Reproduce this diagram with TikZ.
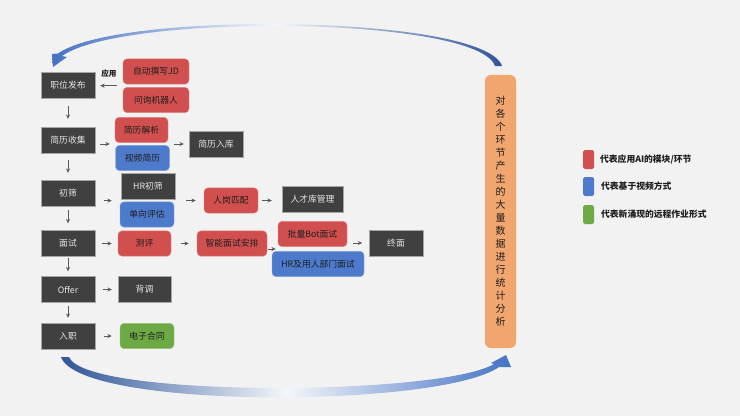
\documentclass[tikz,border=0pt]{standalone}
\usepackage{fontspec}
\setmainfont{Noto Sans CJK SC}
\usetikzlibrary{arrows.meta, positioning, calc}
\definecolor{bgGray}{HTML}{F2F2F2}
\definecolor{boxDark}{HTML}{404040}
\definecolor{boxRed}{HTML}{D24F4F}
\definecolor{boxBlue}{HTML}{4E7ACB}
\definecolor{boxGreen}{HTML}{6DAA45}
\definecolor{barOrange}{HTML}{F1A56F}
\definecolor{arcBlue}{HTML}{4472C4}
\definecolor{arcDeep}{HTML}{2F5597}
\definecolor{flowGray}{HTML}{595959}
\definecolor{ink}{HTML}{1E1E1E}
\tikzset{
  font=\fontsize{7.5}{9}\selectfont,
  stage/.style={rectangle, fill=boxDark, draw=gray!70, line width=0.3pt, text=white!90!black,
                align=center, inner sep=1pt, minimum width=1.62cm, minimum height=0.78cm},
  aibox/.style={rectangle, rounded corners=3.5pt, fill=boxRed, draw=boxRed!70!white, line width=0.4pt,
                text=ink, align=center, inner sep=1pt, minimum width=1.62cm, minimum height=0.76cm},
  videobox/.style={aibox, fill=boxBlue, draw=boxBlue!70!white},
  remotebox/.style={aibox, fill=boxGreen, draw=boxGreen!70!white},
  statbar/.style={rectangle, rounded corners=5pt, fill=barOrange, draw=none, text=ink,
                  align=center, inner sep=0pt, minimum width=0.93cm, minimum height=8.19cm,
                  font=\fontsize{8.5}{11.1}\selectfont},
  flow/.style={-{Stealth[length=1.3mm, width=1.2mm]}, draw=flowGray, line width=0.6pt},
  keybox/.style={rectangle, rounded corners=1.5pt, minimum width=0.33cm, minimum height=0.57cm,
                 inner sep=0pt},
  keytext/.style={font=\fontsize{7.5}{9}\selectfont\bfseries, text=ink, anchor=west, inner sep=0pt},
}

\begin{document}
\begin{tikzpicture}[x=0.03cm, y=-0.03cm]
\useasboundingbox[fill=bgGray] (0,0) rectangle (740,416);

% --- left column: recruiting stages ---
\node[stage] (post)      at (68,85)    {职位发布};
\node[stage] (collect)   at (68,140)   {简历收集};
\node[stage] (screen)    at (68,193)   {初筛};
\node[stage] (interview) at (68,243.5) {面试};
\node[stage] (offer)     at (68,289.5) {Offer};
\node[stage] (onboard)   at (68,336)   {入职};

% --- tools per stage ---
\node[aibox, minimum width=1.98cm] (autojd) at (156,71.5) {自动撰写JD};
\node[aibox, minimum width=1.98cm] (askbot) at (156,100)  {问询机器人};
\node[aibox, minimum width=1.59cm]    (parse)   at (141.5,130) {简历解析};
\node[videobox, minimum width=1.62cm] (vresume) at (142.5,158) {视频简历};
\node[stage] (store) at (216,144) {简历入库};
\node[stage]    (hrscreen) at (148,186.5) {HR初筛};
\node[videobox] (oneway)   at (147,214.5) {单向评估};
\node[aibox]    (match)    at (231,200.5) {人岗匹配};
\node[stage, minimum width=1.83cm] (talent) at (312.5,199) {人才库管理};
\node[aibox, minimum width=1.59cm] (assess)   at (144.5,243.5) {测评};
\node[aibox, minimum width=2.1cm]  (schedule) at (232,243.5)   {智能面试安排};
\node[aibox, minimum width=2.07cm]    (botint) at (312.5,234) {批量Bot面试};
\node[videobox, minimum width=2.76cm] (hrint)  at (318,264)   {HR及用人部门面试};
\node[stage] (final) at (396,243) {终面};
\node[stage, minimum width=1.59cm] (check) at (144.5,289.5) {背调};
\node[remotebox] (contract) at (147,336) {电子合同};

% gaps between stacked tool boxes
\coordinate (askgap) at ($(autojd.south west)!0.5!(askbot.north west)$);
\coordinate (resgap) at ($(parse.south)!0.5!(vresume.north)$);
\coordinate (hrgap)  at ($(hrscreen.south)!0.5!(oneway.north)$);
\coordinate (intgap) at ($(botint.south)!0.5!(hrint.north)$);

% --- stage flow (down the left column) ---
\draw[flow, shorten <=0.24cm, shorten >=0.24cm] (post.south) -- (collect.north);
\draw[flow, shorten <=0.21cm, shorten >=0.21cm] (collect.south) -- (screen.north);
\draw[flow, shorten <=0.12cm, shorten >=0.21cm] (screen.south) -- (interview.north);
\draw[flow, shorten <=0.05cm, shorten >=0.15cm] (interview.south) -- (offer.north);
\draw[flow, shorten <=0.09cm, shorten >=0.15cm] (offer.south) -- (onboard.north);

% --- arrows across ---
\draw[flow, shorten <=0.18cm, shorten >=0.15cm] (askgap) -- (askgap -| post.east)
  node[midway, above=0.12cm, font=\fontsize{6.5}{8}\selectfont\bfseries, text=ink] (apply) {应用};
\draw[flow, shorten <=0.15cm, shorten >=0.15cm] (collect.east |- resgap) -- (parse.west |- resgap);
\draw[flow, shorten <=0.12cm, shorten >=0.15cm] (vresume.east |- resgap) -- (store.west |- resgap);
\draw[flow, shorten <=0.26cm, shorten >=0.24cm] (screen.east |- hrgap) -- (oneway.west |- hrgap);
\draw[flow, shorten <=0.33cm, shorten >=0.24cm] (hrscreen.east |- match) -- (match.west);
\draw[flow, shorten <=0.12cm, shorten >=0.3cm] (match.east) -- (talent.west |- match);
\draw[flow, shorten <=0.2cm, shorten >=0.18cm] (interview.east) -- (assess.west);
\draw[flow, shorten <=0.3cm, shorten >=0.24cm] (assess.east) -- (schedule.west);
\draw[flow, shorten <=0.02cm, shorten >=0.06cm] (schedule.east |- intgap) -- (botint.west |- intgap);
\draw[flow, shorten <=0.18cm, shorten >=0.2cm] (botint.east |- final) -- (final.west);
\draw[flow, shorten <=0.24cm, shorten >=0.18cm] (offer.east) -- (check.west);
\draw[flow, shorten <=0.27cm, shorten >=0.24cm] (onboard.east) -- (contract.west);

% --- statistics bar ---
\node[statbar] (stats) at (500.5,211.5)
  {对\\各\\个\\环\\节\\产\\生\\的\\大\\量\\数\\据\\进\\行\\统\\计\\分\\析};

% --- feedback swooshes (tapered, fading in the middle) ---
\shade[left color=arcBlue, right color=arcDeep, middle color=arcBlue!6]
  (502,66) .. controls (485,15) and (120,10) .. (58,53.5)
  -- (52,54) -- (53,67) -- (67,57) -- (62,56)
  .. controls (122,13) and (478,16) .. (495,66) -- cycle;
\shade[left color=arcDeep, right color=arcBlue, middle color=arcBlue!6]
  (61,357) .. controls (80,410) and (440,408) .. (499,367)
  -- (511,367) -- (506,355) -- (491,363) -- (494,364)
  .. controls (440,396) and (85,398) .. (69,357) -- cycle;

% --- legend ---
\node[keybox, fill=boxRed]   (keyai)    at (588.5,159.5) {};
\node[keybox, fill=boxBlue]  (keyvideo) at (588.5,186.5) {};
\node[keybox, fill=boxGreen] (keyremote) at (588.5,214.5) {};
\node[keytext, right=0.17cm of keyai]     {代表应用AI的模块/环节};
\node[keytext, right=0.2cm of keyvideo]   {代表基于视频方式};
\node[keytext, right=0.2cm of keyremote]  {代表新涌现的远程作业形式};

\end{tikzpicture}
\end{document}
